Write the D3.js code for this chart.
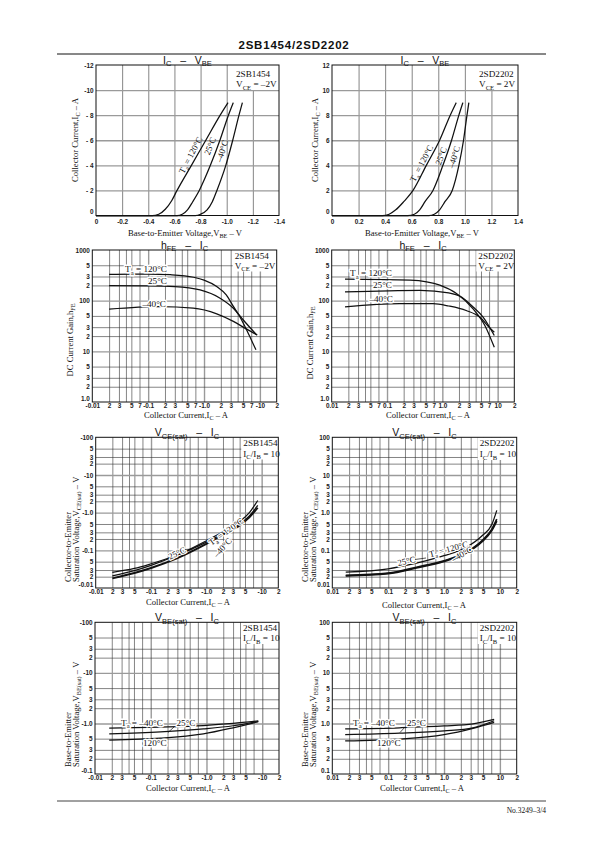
<!DOCTYPE html>
<html><head><meta charset="utf-8">
<script src="https://cdn.jsdelivr.net/npm/d3@7"></script>
<style>body{margin:0;background:#fff}svg{display:block}</style>
</head><body>
<script>
// ================= DATA =================
// Chart 1: IC - VBE, 2SB1454 (VCE = -2V)
const c1_vbe_120 = [0, -0.43, -0.48, -0.53, -0.58, -0.62, -0.73, -0.84, -0.95, -1.01];
const c1_ic_120  = [0, 0, -0.1, -0.5, -1.2, -2, -4, -6, -8, -9];
const c1_vbe_25  = [0, -0.62, -0.66, -0.70, -0.74, -0.79, -0.875, -0.948, -1.013, -1.05];
const c1_ic_25   = [0, 0, -0.1, -0.45, -1.1, -2, -4, -6, -8, -9];
const c1_vbe_m40 = [0, -0.76, -0.80, -0.85, -0.89, -0.925, -0.993, -1.046, -1.094, -1.12];
const c1_ic_m40  = [0, 0, -0.1, -0.45, -1.1, -2, -4, -6, -8, -9];
// Chart 2: IC - VBE, 2SD2202 (VCE = 2V)
const c2_vbe_120 = [0, 0.38, 0.43, 0.48, 0.54, 0.61, 0.71, 0.81, 0.89, 0.935];
const c2_ic_120  = [0, 0, 0.1, 0.45, 1.1, 2, 4, 6, 8, 9];
const c2_vbe_25  = [0, 0.57, 0.62, 0.66, 0.70, 0.76, 0.835, 0.90, 0.955, 0.985];
const c2_ic_25   = [0, 0, 0.1, 0.45, 1.1, 2, 4, 6, 8, 9];
const c2_vbe_m40 = [0, 0.73, 0.77, 0.81, 0.85, 0.905, 0.955, 0.99, 1.016, 1.03];
const c2_ic_m40  = [0, 0, 0.1, 0.45, 1.1, 2, 4, 6, 8, 9];
// Chart 3: hFE - IC, 2SB1454
const c3_ic_120  = [-0.02, -0.05, -0.1, -0.25, -0.65, -1.0, -1.69, -2.5, -3.35, -4.2, -5.4, -7, -8.5];
const c3_hfe_120 = [331, 335, 335, 325, 290, 255, 190, 130, 77, 52, 31, 17, 10.7];
const c3_ic_25   = [-0.02, -0.1, -0.3, -0.85, -1.94, -3.35, -5.0, -8.8];
const c3_hfe_25  = [198, 196, 190, 163, 112, 71, 42, 21];
const c3_ic_m40  = [-0.02, -0.16, -0.64, -1.69, -3.35, -5.8, -9.0];
const c3_hfe_m40 = [68, 76, 71, 55, 39, 27.4, 21];
// Chart 4: hFE - IC, 2SD2202
const c4_ic_120  = [0.0174, 0.26, 0.52, 0.9, 1.8, 3.6, 5.9, 8.7];
const c4_hfe_120 = [265, 253, 235, 202, 138, 69, 32, 12];
const c4_ic_25   = [0.0174, 0.4, 1.3, 2.1, 3.6, 5.5, 8.7];
const c4_hfe_25  = [149, 160, 142, 122, 75, 47, 20.5];
const c4_ic_m40  = [0.0174, 0.17, 0.68, 1.3, 2.7, 4.8, 7.2, 8.7];
const c4_hfe_m40 = [75, 87, 87, 78.5, 64, 47, 29, 23.8];
// Chart 5: VCE(sat) - IC, 2SB1454
const c5_ic      = [-0.02, -0.05, -0.1, -0.3, -1, -2, -4, -6, -8.5];
const c5_v_120   = [-0.021, -0.029, -0.04, -0.075, -0.18, -0.31, -0.58, -1.0, -2.1];
const c5_v_25    = [-0.026, -0.033, -0.044, -0.075, -0.165, -0.28, -0.5, -0.82, -1.55];
const c5_v_m40   = [-0.018, -0.025, -0.034, -0.062, -0.148, -0.26, -0.46, -0.75, -1.35];
// Chart 6: VCE(sat) - IC, 2SD2202
const c6_ic      = [0.0174, 0.1, 0.32, 1.0, 2.5, 4.8, 7.2, 8.8];
const c6_v_120   = [0.0264, 0.0322, 0.0455, 0.072, 0.12, 0.243, 0.49, 1.15];
const c6_v_25    = [0.0216, 0.0247, 0.0355, 0.053, 0.0889, 0.18, 0.366, 0.67];
const c6_v_m40   = [0.021, 0.024, 0.034, 0.051, 0.085, 0.17, 0.34, 0.6];
// Chart 7: VBE(sat) - IC, 2SB1454
const c7_ic      = [-0.018, -0.15, -0.88, -3.0, -8.5];
const c7_v_m40   = [-0.81, -0.85, -0.91, -1.0, -1.12];
const c7_v_25    = [-0.62, -0.68, -0.78, -0.9, -1.1];
const c7_v_120   = [-0.47, -0.51, -0.62, -0.82, -1.08];
// Chart 8: VBE(sat) - IC, 2SD2202
const c8_ic      = [0.017, 0.16, 1.0, 3.3, 7.9];
const c8_v_m40   = [0.78, 0.82, 0.89, 0.98, 1.2];
const c8_v_25    = [0.6, 0.64, 0.71, 0.82, 1.13];
const c8_v_120   = [0.45, 0.49, 0.6, 0.8, 1.05];

// ---- tick values / labels ----
const vbeTicksB = [0, -0.2, -0.4, -0.6, -0.8, -1.0, -1.2, -1.4];
const vbeLabelsB = ['0', '-0.2', '-0.4', '-0.6', '-0.8', '-1.0', '-1.2', '-1.4'];
const icTicksB = [0, -2, -4, -6, -8, -10, -12];
const icLabelsB = ['0', '- 2', '- 4', '- 6', '- 8', '-10', '-12'];
const vbeTicksD = [0, 0.2, 0.4, 0.6, 0.8, 1.0, 1.2, 1.4];
const vbeLabelsD = ['0', '0.2', '0.4', '0.6', '0.8', '1.0', '1.2', '1.4'];
const icTicksD = [0, 2, 4, 6, 8, 10, 12];
const icLabelsD = ['0', '2', '4', '6', '8', '10', '12'];

const logIcTicks7 = [0.01, 0.02, 0.03, 0.05, 0.07, 0.1, 0.2, 0.3, 0.5, 0.7, 1, 2, 3, 5, 7, 10, 20];
const logIcLabelsB7 = ['-0.01', '2', '3', '5', '7', '-0.1', '2', '3', '5', '7', '-1.0', '2', '3', '5', '7', '-10', '2'];
const logIcLabelsD7 = ['0.01', '2', '3', '5', '7', '0.1', '2', '3', '5', '7', '1.0', '2', '3', '5', '7', '10', '2'];
const logIcTicks = [0.01, 0.02, 0.03, 0.05, 0.1, 0.2, 0.3, 0.5, 1, 2, 3, 5, 10, 20];
const logIcLabelsB = ['-0.01', '2', '3', '5', '-0.1', '2', '3', '5', '-1.0', '2', '3', '5', '-10', '2'];
const logIcLabelsD = ['0.01', '2', '3', '5', '0.1', '2', '3', '5', '1.0', '2', '3', '5', '10', '2'];
const hfeTicks = [1, 2, 3, 5, 10, 20, 30, 50, 100, 200, 300, 500, 1000];
const hfeLabels = ['1.0', '2', '3', '5', '10', '2', '3', '5', '100', '2', '3', '5', '1000'];
const vceTicks = [0.01, 0.02, 0.03, 0.05, 0.1, 0.2, 0.3, 0.5, 1, 2, 3, 5, 10, 20, 30, 50, 100];
const vceLabelsB = ['-0.01', '2', '3', '5', '-0.1', '2', '3', '5', '-1.0', '2', '3', '5', '-10', '2', '3', '5', '-100'];
const vceLabelsD = ['0.01', '2', '3', '5', '0.1', '2', '3', '5', '1.0', '2', '3', '5', '10', '2', '3', '5', '100'];
const vbeSatTicks = [0.1, 0.2, 0.3, 0.5, 1, 2, 3, 5, 10, 20, 30, 50, 100];
const vbeSatLabelsB = ['-0.1', '2', '3', '5', '-1.0', '2', '3', '5', '-10', '2', '3', '5', '-100'];
const vbeSatLabelsD = ['0.1', '2', '3', '5', '1.0', '2', '3', '5', '10', '2', '3', '5', '100'];
const logGridMantissas = [1, 2, 3, 4, 5, 7];

// ================= DRAWING =================
const SERIF = "'Liberation Serif','Times New Roman',serif";
const SANS = "'Liberation Sans',Arial,sans-serif";
const NB = '\u00a0';
const svg = d3.select('body').append('svg').attr('width', 595).attr('height', 842);

function zip(a, b) { return a.map((v, i) => [v, b[i]]); }
function neg(a) { return a.map(v => -v); }

function rich(t, str, fs) {
  const parts = str.split(/(_\{[^}]*\})/).filter(s => s.length);
  let sub = false;
  parts.forEach(p => {
    if (p.startsWith('_{')) {
      t.append('tspan').attr('dy', fs * 0.28).attr('font-size', fs * 0.72).text(p.slice(2, -1));
      sub = true;
    } else {
      const ts = t.append('tspan').text(p);
      if (sub) { ts.attr('dy', -fs * 0.28); sub = false; }
    }
  });
  return t;
}
function txt(g, x, y, str, o = {}) {
  const fs = o.fs || 8.5;
  const t = g.append('text').attr('x', x).attr('y', y)
    .attr('font-family', o.ff || SERIF).attr('font-size', fs)
    .attr('text-anchor', o.anchor || 'start').attr('fill', '#111');
  if (o.rot !== undefined) t.attr('transform', `rotate(${o.rot},${x},${y})`);
  if (o.halo) t.attr('stroke', '#fff').attr('stroke-width', o.halo).attr('paint-order', 'stroke').attr('stroke-linejoin', 'round');
  if (o.dy) t.attr('dy', o.dy);
  return rich(t, str, fs);
}
const isDecade = d => { const l = Math.log10(Math.abs(d)); return Math.abs(l - Math.round(l)) < 1e-6; };

function drawChart(c) {
  const g = svg.append('g');
  const W = c.R - c.L, H = c.B - c.T;
  const x = (c.xLog ? d3.scaleLog() : d3.scaleLinear()).domain(c.xDom).range([c.L, c.R]);
  const y = (c.yLog ? d3.scaleLog() : d3.scaleLinear()).domain(c.yDom).range([c.B, c.T]);
  const sx = c.xSign || 1;
  let xGrid;
  if (c.xLog) {
    xGrid = [];
    [0.01, 0.1, 1, 10].forEach(d => logGridMantissas.forEach(m => { const v = +(m * d).toPrecision(3); if (v > 0.01 && v < 20) xGrid.push(sx * v); }));
  } else xGrid = c.xTicks.slice(1, -1);
  const yGrid = c.yTicks.slice(1, -1);

  const gx = g.append('g').attr('transform', `translate(0,${c.B})`)
    .call(d3.axisBottom(x).tickValues(xGrid).tickSize(-H).tickFormat(''));
  gx.select('.domain').remove();
  gx.selectAll('line').attr('stroke', d => (c.xLog && isDecade(d)) ? '#9a9a9a' : '#333')
    .attr('stroke-width', d => (c.xLog && isDecade(d)) ? 1.4 : 0.6);
  const gy = g.append('g').attr('transform', `translate(${c.L},0)`)
    .call(d3.axisLeft(y).tickValues(yGrid).tickSize(-W).tickFormat(''));
  gy.select('.domain').remove();
  gy.selectAll('line').attr('stroke', d => (!c.yLog || isDecade(d)) ? '#9a9a9a' : '#333')
    .attr('stroke-width', d => (!c.yLog || isDecade(d)) ? 1.4 : 0.6);

  // white box behind the device / condition note
  const bx = c.R - c.infoOff - 2;
  g.append('rect').attr('x', bx).attr('y', c.T).attr('width', c.R - bx).attr('height', c.infoY[1] + 3 - c.T).attr('fill', '#fff');

  g.append('rect').attr('x', c.L).attr('y', c.T).attr('width', W).attr('height', H)
    .attr('fill', 'none').attr('stroke', '#111').attr('stroke-width', 1);

  const ax = g.append('g').attr('transform', `translate(0,${c.B})`)
    .call(d3.axisBottom(x).tickValues(c.xTicks).tickFormat((d, i) => c.xLabels[i]).tickSize(0).tickPadding(c.xPad));
  ax.select('.domain').remove();
  ax.attr('font-family', SANS).attr('font-size', 6.4).attr('font-weight', 'bold');
  ax.selectAll('text').attr('fill', '#222');
  const ay = g.append('g').attr('transform', `translate(${c.L},0)`)
    .call(d3.axisLeft(y).tickValues(c.yTicks).tickFormat((d, i) => c.yLabels[i]).tickSize(0).tickPadding(2.5));
  ay.select('.domain').remove();
  ay.attr('font-family', SANS).attr('font-size', 6.4).attr('font-weight', 'bold');
  ay.selectAll('text').attr('fill', '#222');
  ay.selectAll('.tick').filter((d, i) => i === 0).select('text').attr('dy', '-0.25em');

  const line = d3.line().x(d => x(d[0])).y(d => y(d[1])).curve(d3.curveMonotoneX);
  c.series.forEach(s => {
    g.append('path').attr('d', line(s.pts)).attr('fill', 'none')
      .attr('stroke', '#111').attr('stroke-width', s.w || 1.25).attr('stroke-linejoin', 'round');
  });

  txt(g, (c.L + c.R) / 2, c.T - 1.5, c.title, { ff: SANS, fs: 10.5, anchor: 'middle' });
  c.info.forEach((s, i) => txt(g, c.R - c.infoOff, c.infoY[i], s, { fs: 9.2 }));
  txt(g, c.xt[0], c.xt[1], c.xtitle, { anchor: 'middle', fs: 8.6 });
  c.yt.forEach(t => txt(g, t[0], t[1], t[2], { anchor: t[3] || 'middle', rot: -90, fs: 8.6 }));
  (c.notes || []).forEach(n => txt(g, n.x, n.y, n.t, { anchor: n.a || 'middle', rot: n.r, fs: n.fs || 9.2, halo: n.h, dy: n.dy }));
  (c.arrows || []).forEach(a => {
    g.append('line').attr('x1', a[0]).attr('y1', a[1]).attr('x2', a[2]).attr('y2', a[3]).attr('stroke', '#111').attr('stroke-width', 0.7);
  });
}

const T = (a, b) => `${a}${NB}${NB}${NB}–${NB}${NB}${NB}${b}`;

// header / footer
txt(svg, 294, 48.5, '2SB1454/2SD2202', { ff: SANS, fs: 11.5, anchor: 'middle' })
  .attr('font-weight', 'bold').attr('letter-spacing', 0.8);
svg.append('line').attr('x1', 57).attr('x2', 546).attr('y1', 54).attr('y2', 54).attr('stroke', '#111').attr('stroke-width', 1);
svg.append('line').attr('x1', 57).attr('x2', 546).attr('y1', 801).attr('y2', 801).attr('stroke', '#111').attr('stroke-width', 0.8);
txt(svg, 546, 813, 'No.3249–3/4', { fs: 7.5, anchor: 'end' });

drawChart({
  L: 96, R: 279, T: 65, B: 215.5, xDom: [0, -1.4], yDom: [0, -12],
  xTicks: vbeTicksB, xLabels: vbeLabelsB, yTicks: icTicksB, yLabels: icLabelsB, xPad: 3.5,
  series: [{ pts: zip(c1_vbe_120, c1_ic_120) }, { pts: zip(c1_vbe_25, c1_ic_25) }, { pts: zip(c1_vbe_m40, c1_ic_m40) }],
  title: T('I_{C}', 'V_{BE}'), info: ['2SB1454', 'V_{CE} = –2V'], infoOff: 43, infoY: [77, 87],
  xtitle: 'Base-to-Emitter Voltage,V_{BE} – V', xt: [185, 235.5],
  yt: [[78, 140, 'Collector Current,I_{C} – A']],
  notes: [{ x: 190.5, y: 155, t: 'T_{a} = 120°C', r: -62, dy: '0.35em', fs: 8.8 },
          { x: 210, y: 146, t: '25°C', r: -68, dy: '0.35em', fs: 8.8 },
          { x: 222, y: 151, t: '–40°C', r: -72, dy: '0.35em', fs: 8.8 }]
});
drawChart({
  L: 332, R: 518, T: 65, B: 215.5, xDom: [0, 1.4], yDom: [0, 12],
  xTicks: vbeTicksD, xLabels: vbeLabelsD, yTicks: icTicksD, yLabels: icLabelsD, xPad: 3.5,
  series: [{ pts: zip(c2_vbe_120, c2_ic_120) }, { pts: zip(c2_vbe_25, c2_ic_25) }, { pts: zip(c2_vbe_m40, c2_ic_m40) }],
  title: T('I_{C}', 'V_{BE}'), info: ['2SD2202', 'V_{CE} = 2V'], infoOff: 39, infoY: [77, 87],
  xtitle: 'Base-to-Emitter Voltage,V_{BE} – V', xt: [422, 236],
  yt: [[318, 140, 'Collector Current,I_{C} – A']],
  notes: [{ x: 421.5, y: 163.3, t: 'T_{a} = 120°C', r: -62, dy: '0.35em', fs: 8.8 },
          { x: 441, y: 156, t: '25°C', r: -70, dy: '0.35em', fs: 8.8 },
          { x: 454, y: 157, t: '–40°C', r: -74, dy: '0.35em', fs: 8.8 }]
});
drawChart({
  L: 92.3, R: 276.7, T: 250, B: 402, xLog: true, yLog: true, xSign: -1,
  xDom: [-0.01, -20], yDom: [1, 1000],
  xTicks: neg(logIcTicks7), xLabels: logIcLabelsB7, yTicks: hfeTicks, yLabels: hfeLabels, xPad: 1.5,
  series: [{ pts: zip(c3_ic_120, c3_hfe_120) }, { pts: zip(c3_ic_25, c3_hfe_25) }, { pts: zip(c3_ic_m40, c3_hfe_m40) }],
  title: T('h_{FE}', 'I_{C}'), info: ['2SB1454', 'V_{CE} = –2V'], infoOff: 42, infoY: [258.5, 268.5],
  xtitle: 'Collector Current,I_{C} – A', xt: [186, 418],
  yt: [[73, 340, 'DC Current Gain,h_{FE}']],
  notes: [{ x: 167, y: 272, t: 'T_{a} = 120°C', a: 'end', h: 3 },
          { x: 167, y: 283.5, t: '25°C', a: 'end', h: 3 },
          { x: 166, y: 306.5, t: '–40°C', a: 'end', h: 3 }]
});
drawChart({
  L: 331.7, R: 514.3, T: 250, B: 402, xLog: true, yLog: true,
  xDom: [0.01, 20], yDom: [1, 1000],
  xTicks: logIcTicks7, xLabels: logIcLabelsD7, yTicks: hfeTicks, yLabels: hfeLabels, xPad: 1.5,
  series: [{ pts: zip(c4_ic_120, c4_hfe_120) }, { pts: zip(c4_ic_25, c4_hfe_25) }, { pts: zip(c4_ic_m40, c4_hfe_m40) }],
  title: T('h_{FE}', 'I_{C}'), info: ['2SD2202', 'V_{CE} = 2V'], infoOff: 36, infoY: [258.5, 268.5],
  xtitle: 'Collector Current,I_{C} – A', xt: [428, 418],
  yt: [[313, 343, 'DC Current Gain,h_{FE}']],
  notes: [{ x: 392, y: 276, t: 'T_{a} = 120°C', a: 'end', h: 3 },
          { x: 392, y: 288, t: '25°C', a: 'end', h: 3 },
          { x: 393, y: 302, t: '–40°C', a: 'end', h: 3 }]
});
drawChart({
  L: 95.7, R: 278.3, T: 437.3, B: 588, xLog: true, yLog: true, xSign: -1,
  xDom: [-0.01, -20], yDom: [-0.01, -100],
  xTicks: neg(logIcTicks), xLabels: logIcLabelsB, yTicks: neg(vceTicks), yLabels: vceLabelsB, xPad: 1,
  series: [{ pts: zip(c5_ic, c5_v_120) }, { pts: zip(c5_ic, c5_v_25) }, { pts: zip(c5_ic, c5_v_m40), w: 1.9 }],
  title: T('V_{CE(sat)}', 'I_{C}'), info: ['2SB1454', 'I_{C}/I_{B} = 10'], infoOff: 35, infoY: [446, 456.5],
  xtitle: 'Collector Current,I_{C} – A', xt: [188, 605],
  yt: [[70.5, 582, 'Collector-to-Emitter', 'start'], [78.5, 582, 'Saturation Voltage,V_{CE(sat)} – V', 'start']],
  notes: [{ x: 177, y: 553, t: '25°C', r: -25, dy: '0.35em', h: 2.5, fs: 8.8 },
          { x: 226, y: 531.5, t: 'T_{a} = 120°C', r: -36, dy: '0.35em', h: 2.5, fs: 8.8 },
          { x: 222.5, y: 547.5, t: '–40°C', r: -48, dy: '0.35em', h: 2.5, fs: 8.8 }],
  arrows: [[185, 549.5, 193, 549]]
});
drawChart({
  L: 332.3, R: 516.7, T: 437.3, B: 588, xLog: true, yLog: true,
  xDom: [0.01, 20], yDom: [0.01, 100],
  xTicks: logIcTicks, xLabels: logIcLabelsD, yTicks: vceTicks, yLabels: vceLabelsD, xPad: 1,
  series: [{ pts: zip(c6_ic, c6_v_120) }, { pts: zip(c6_ic, c6_v_25), w: 1.7 }, { pts: zip(c6_ic, c6_v_m40), w: 1.7 }],
  title: T('V_{CE(sat)}', 'I_{C}'), info: ['2SD2202', 'I_{C}/I_{B} = 10'], infoOff: 37, infoY: [446, 457],
  xtitle: 'Collector Current,I_{C} – A', xt: [424, 608],
  yt: [[308, 582, 'Collector-to-Emitter', 'start'], [315.5, 582, 'Saturation Voltage,V_{CE(sat)} – V', 'start']],
  notes: [{ x: 406.5, y: 561, t: '25°C', r: -12, dy: '0.35em', h: 2.5, fs: 8.8 },
          { x: 448.5, y: 549, t: 'T_{a} = 120°C', r: -15, dy: '0.35em', h: 2.5, fs: 8.8 },
          { x: 462, y: 554, t: '–40°C', r: -30, dy: '0.35em', h: 2.5, fs: 8.8 }],
  arrows: [[415, 559.5, 426, 558]]
});
drawChart({
  L: 95, R: 279, T: 622.3, B: 774, xLog: true, yLog: true, xSign: -1,
  xDom: [-0.01, -20], yDom: [-0.1, -100],
  xTicks: neg(logIcTicks), xLabels: logIcLabelsB, yTicks: neg(vbeSatTicks), yLabels: vbeSatLabelsB, xPad: 1,
  series: [{ pts: zip(c7_ic, c7_v_m40) }, { pts: zip(c7_ic, c7_v_25) }, { pts: zip(c7_ic, c7_v_120) }],
  title: T('V_{BE(sat)}', 'I_{C}'), info: ['2SB1454', 'I_{C}/I_{B} = 10'], infoOff: 36, infoY: [630.5, 641],
  xtitle: 'Collector Current,I_{C} – A', xt: [188, 791],
  yt: [[70.5, 767, 'Base-to-Emitter', 'start'], [78.5, 767, 'Saturation Voltage,V_{BE(sat)} – V', 'start']],
  notes: [{ x: 121, y: 725.5, t: 'T_{a} = –40°C', a: 'start', h: 3 },
          { x: 176.5, y: 725.5, t: '25°C', a: 'start', h: 3 },
          { x: 143, y: 745.5, t: '120°C', a: 'start', h: 3 }],
  arrows: [[174, 727, 168, 732.5]]
});
drawChart({
  L: 332.3, R: 516.7, T: 622.3, B: 774, xLog: true, yLog: true,
  xDom: [0.01, 20], yDom: [0.1, 100],
  xTicks: logIcTicks, xLabels: logIcLabelsD, yTicks: vbeSatTicks, yLabels: vbeSatLabelsD, xPad: 1,
  series: [{ pts: zip(c8_ic, c8_v_m40) }, { pts: zip(c8_ic, c8_v_25) }, { pts: zip(c8_ic, c8_v_120) }],
  title: T('V_{BE(sat)}', 'I_{C}'), info: ['2SD2202', 'I_{C}/I_{B} = 10'], infoOff: 37, infoY: [630.5, 641],
  xtitle: 'Collector Current,I_{C} – A', xt: [422, 791],
  yt: [[308, 767, 'Base-to-Emitter', 'start'], [315.5, 767, 'Saturation Voltage,V_{BE(sat)} – V', 'start']],
  notes: [{ x: 353, y: 725.5, t: 'T_{a} = –40°C', a: 'start', h: 3 },
          { x: 407, y: 725.5, t: '25°C', a: 'start', h: 3 },
          { x: 377, y: 745.5, t: '120°C', a: 'start', h: 3 }],
  arrows: [[405, 727, 400, 732.5]]
});
</script>
</body></html>
